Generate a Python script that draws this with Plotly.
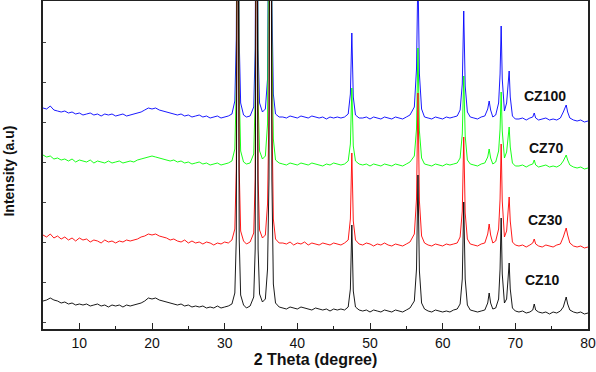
import plotly.graph_objects as go

# 2-theta grid (degrees)
two_theta = [
    5.0, 5.5, 6.0, 6.5, 7.0, 7.5, 8.0, 8.5, 9.0, 9.5, 10.0, 10.5, 11.0, 11.5, 12.0, 12.5, 13.0, 13.5, 14.0, 14.5,
    15.0, 15.5, 16.0, 16.5, 17.0, 17.5, 18.0, 18.5, 19.0, 19.5, 20.0, 20.5, 21.0, 21.5, 22.0, 22.5, 23.0, 23.5, 24.0, 24.5,
    25.0, 25.5, 26.0, 26.5, 27.0, 27.5, 28.0, 28.5, 29.0, 29.5, 30.0, 30.5,
    31.0, 31.4, 31.6, 31.8, 32.0, 32.2, 32.6, 33.0, 33.5, 34.0, 34.2, 34.4, 34.6, 34.8, 35.2, 35.6, 35.9, 36.1, 36.3, 36.5, 36.7, 37.0, 37.5,
    38.0, 38.5, 39.0, 39.5, 40.0, 40.5, 41.0, 41.5, 42.0, 42.5, 43.0, 43.5, 44.0, 44.5, 45.0, 45.5, 46.0, 46.5,
    47.0, 47.3, 47.5, 47.7, 48.0, 48.5,
    49.0, 49.5, 50.0, 50.5, 51.0, 51.5, 52.0, 52.5, 53.0, 53.5, 54.0, 54.5, 55.0, 55.5,
    56.1, 56.4, 56.6, 56.8, 57.1, 57.5,
    58.0, 58.5, 59.0, 59.5, 60.0, 60.5, 61.0, 61.5, 62.0,
    62.4, 62.7, 62.9, 63.1, 63.4, 63.8,
    64.3, 64.8, 65.3, 65.8,
    66.2, 66.4, 66.6, 66.9, 67.3, 67.7, 67.9, 68.05, 68.2, 68.5, 68.8, 69.0, 69.15, 69.3, 69.6, 70.0,
    70.5, 71.0, 71.5, 72.0, 72.4, 72.6, 72.8, 73.2, 73.7, 74.2, 74.7, 75.2, 75.7, 76.2, 76.6, 76.8, 77.0, 77.2, 77.5, 78.0, 78.5, 79.0, 79.5, 80.0,
]

cz10 = [
    28, 29, 31, 29, 28, 26, 27, 25, 26, 24, 25, 24, 25, 23, 24, 25, 23, 24, 22, 24,
    23, 24, 22, 24, 23, 24, 25, 26, 28, 31, 30, 31, 29, 28, 27, 26, 25, 24, 25, 23,
    24, 22, 23, 22, 23, 21, 22, 21, 23, 21, 22, 23,
    25, 36, 90, 600, 90, 34, 24, 21, 23, 32, 80, 600, 80, 35, 27, 30, 60, 150, 700, 150, 45, 26, 22,
    21, 20, 22, 21, 20, 22, 21, 20, 19, 21, 20, 19, 20, 18, 20, 19, 20, 19,
    22, 40, 104, 38, 22, 19,
    18, 19, 17, 19, 18, 17, 19, 18, 17, 19, 18, 17, 19, 21,
    28, 60, 154, 58, 26, 20,
    18, 17, 19, 18, 17, 18, 17, 19, 20,
    25, 50, 127, 50, 24, 19,
    18, 17, 18, 19,
    26, 36, 26, 20, 21, 30, 60, 111, 55, 26, 30, 50, 66, 40, 21, 18,
    17, 18, 16, 17, 19, 25, 19, 17, 16, 17, 15, 17, 16, 18, 22, 27, 32, 25, 19, 17, 16, 17, 15, 16,
]

cz30 = [
    94, 92, 95, 91, 93, 90, 92, 89, 91, 88, 91, 89, 90, 87, 89, 88, 86, 89, 87, 88,
    86, 88, 87, 89, 88, 89, 90, 92, 93, 95, 94, 95, 93, 92, 91, 89, 90, 88, 87, 89,
    86, 88, 86, 87, 85, 87, 86, 84, 86, 85, 87, 86,
    89, 100, 160, 600, 160, 98, 88, 85, 87, 96, 150, 600, 150, 99, 91, 94, 125, 220, 700, 220, 110, 90, 86,
    86, 85, 87, 84, 86, 85, 87, 84, 86, 85, 84, 86, 85, 84, 86, 85, 84, 86,
    89, 110, 176, 108, 89, 85,
    84, 86, 85, 83, 85, 84, 86, 84, 83, 85, 84, 83, 85, 87,
    95, 130, 236, 128, 93, 86,
    84, 83, 85, 84, 83, 85, 84, 85, 86,
    92, 118, 192, 116, 90, 85,
    84, 83, 85, 86,
    95, 105, 94, 86, 88, 100, 130, 185, 128, 92, 98, 120, 132, 108, 87, 84,
    83, 84, 82, 84, 86, 90, 85, 83, 82, 84, 83, 82, 84, 85, 92, 97, 101, 94, 86, 83, 82, 83, 81, 82,
]

cz70 = [
    174, 172, 173, 170, 171, 169, 170, 168, 170, 167, 169, 168, 167, 169, 166, 168, 167, 166, 168, 166,
    167, 168, 166, 167, 168, 167, 169, 170, 171, 172, 173, 172, 171, 170, 169, 168, 169, 167, 168, 166,
    167, 165, 166, 167, 165, 166, 164, 165, 166, 164, 165, 166,
    168, 180, 240, 600, 240, 178, 167, 165, 166, 175, 230, 600, 230, 178, 170, 173, 205, 290, 700, 290, 190, 169, 166,
    165, 164, 166, 165, 164, 166, 165, 164, 166, 165, 164, 163, 165, 164, 166, 165, 164, 165,
    168, 185, 241, 183, 168, 165,
    164, 165, 163, 165, 164, 163, 165, 164, 163, 165, 164, 163, 165, 167,
    173, 200, 281, 198, 171, 165,
    164, 163, 165, 164, 163, 165, 164, 165, 166,
    171, 195, 253, 193, 169, 165,
    164, 163, 165, 166,
    172, 180, 171, 165, 167, 178, 200, 237, 198, 171, 177, 195, 202, 182, 166, 163,
    163, 164, 162, 164, 165, 169, 164, 162, 163, 164, 162, 163, 162, 164, 168, 172, 174, 169, 164, 162, 161, 162, 160, 161,
]

cz100 = [
    221, 220, 223, 219, 218, 217, 218, 216, 217, 215, 216, 214, 215, 216, 214, 215, 213, 215, 214, 215,
    213, 214, 215, 213, 214, 215, 216, 217, 219, 221, 220, 221, 219, 218, 217, 216, 215, 214, 215, 213,
    214, 212, 213, 214, 212, 213, 211, 212, 213, 211, 212, 213,
    215, 228, 290, 600, 290, 226, 214, 212, 213, 222, 280, 600, 280, 226, 217, 220, 250, 330, 700, 330, 235, 215, 212,
    212, 211, 213, 212, 211, 213, 212, 211, 213, 212, 211, 212, 210, 212, 211, 212, 211, 212,
    215, 235, 296, 232, 214, 211,
    211, 212, 210, 212, 211, 210, 212, 211, 210, 212, 211, 210, 212, 214,
    222, 260, 360, 255, 220, 212,
    211, 210, 212, 211, 210, 212, 211, 212, 213,
    219, 245, 318, 243, 217, 212,
    211, 210, 212, 213,
    220, 228, 219, 212, 214, 226, 255, 303, 250, 218, 226, 248, 258, 232, 213, 210,
    210, 211, 209, 211, 212, 216, 211, 209, 210, 211, 209, 210, 209, 211, 217, 221, 224, 217, 211, 209, 208, 209, 207, 208,
]

series_names = ["CZ100", "CZ70", "CZ30", "CZ10"]
series_values = [cz100, cz70, cz30, cz10]
series_colors = ["#0000FF", "#00FF00", "#FF0000", "#000000"]
label_x = [74.1, 74.2, 74.1, 73.7]
label_y = [233, 181, 109, 49]

x_ticks = [10, 20, 30, 40, 50, 60, 70, 80]

FONT = "Arial, 'Liberation Sans', sans-serif"

fig = go.Figure()
for name, vals, col in zip(series_names, series_values, series_colors):
    fig.add_trace(go.Scatter(x=two_theta, y=vals, mode="lines", name=name,
                             line=dict(color=col, width=0.9), showlegend=False))

for name, lx, ly in zip(series_names, label_x, label_y):
    fig.add_annotation(x=lx, y=ly, text="<b>%s</b>" % name, showarrow=False,
                       font=dict(family=FONT, size=14, color="#111111"))

fig.add_annotation(xref="paper", yref="paper", x=0, y=0.48, xanchor="center", yanchor="middle",
                   xshift=-34, text="<b>Intensity (a.u)</b>", textangle=-90, showarrow=False,
                   font=dict(family=FONT, size=14, color="#111111"))

fig.update_layout(
    width=596, height=372,
    margin=dict(l=43, r=8, t=1, b=43, autoexpand=False),
    paper_bgcolor="white", plot_bgcolor="white",
    font=dict(family=FONT, size=14, color="#111111"),
    xaxis=dict(range=[5, 80], tickvals=x_ticks, ticks="inside", ticklen=6, tickwidth=1,
               tickcolor="#222222", showline=True, linecolor="#222222", linewidth=1.5,
               mirror=True, showgrid=False, zeroline=False, automargin=False,
               minor=dict(tickvals=[5, 15, 25, 35, 45, 55, 65, 75], ticks="inside", ticklen=3,
                          tickcolor="#222222"),
               title=dict(text="<b>2 Theta (degree)</b>", font=dict(family=FONT, size=16),
                          standoff=4),
               tickfont=dict(family=FONT, size=14, color="#111111")),
    yaxis=dict(range=[0, 328], tick0=7, dtick=40, ticks="inside", ticklen=3, tickwidth=1,
               tickcolor="#444444", showticklabels=False, showline=True, linecolor="#222222",
               linewidth=1.5, mirror=True, showgrid=False, zeroline=False, automargin=False),
)

fig.write_html("out.html", config={"displayModeBar": False},
               post_script="document.body.style.margin='0';document.body.style.overflow='hidden';")
